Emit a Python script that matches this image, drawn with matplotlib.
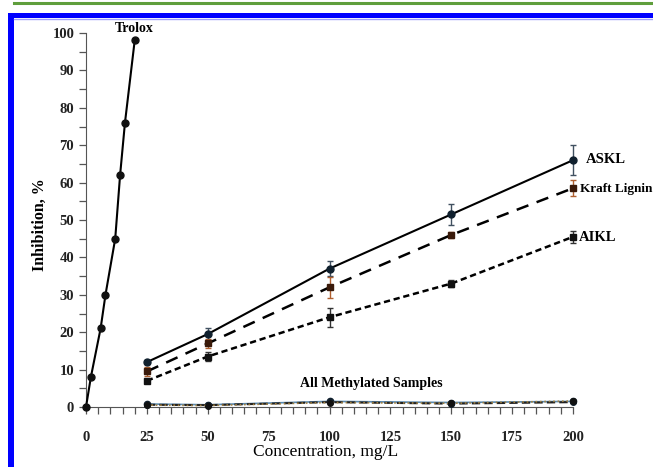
import matplotlib
matplotlib.use("Agg")
import matplotlib.pyplot as plt
from matplotlib.lines import Line2D
from matplotlib.patches import Rectangle
from matplotlib.ticker import MultipleLocator

# ---- data ----
trolox_x = [0, 2, 6, 8, 12, 14, 16, 20]
trolox_y = [0, 8, 21, 30, 45, 62, 76, 98]

conc = [25, 50, 100, 150, 200]
askl_y = [12, 19.5, 37, 51.5, 66]
askl_err = [0.6, 1.5, 2.0, 2.8, 4.0]
kraft_y = [9.5, 17, 32, 46, 58.5]
kraft_err = [1.2, 1.2, 2.8, 0.8, 2.2]
aikl_y = [7, 13.5, 24, 33, 45.5]
aikl_err = [0.6, 1.2, 2.5, 0.9, 1.6]
meth_askl_y = [0.8, 0.6, 1.5, 1.2, 1.5]
meth_kraft_y = [0.6, 0.5, 1.3, 0.9, 1.3]
meth_aikl_y = [0.5, 0.4, 1.2, 1.0, 1.6]

x_ticks = [0, 25, 50, 75, 100, 125, 150, 175, 200]
y_ticks = [0, 10, 20, 30, 40, 50, 60, 70, 80, 90, 100]

serif = ["Liberation Serif", "DejaVu Serif"]

fig = plt.figure(figsize=(6.53, 4.67), dpi=100)
W, H = 653, 467

# decorative frame
fig.add_artist(Line2D([14 / W, 1], [1 - 3 / H, 1 - 3 / H], transform=fig.transFigure,
                      color="#5f9e3c", lw=2.2))
fig.add_artist(Rectangle((8 / W, 0), 6 / W, 1 - 13 / H, transform=fig.transFigure,
                         color="#0000ff", lw=0))
fig.add_artist(Rectangle((8 / W, 1 - 18 / H), 1 - 8 / W, 5 / H, transform=fig.transFigure,
                         color="#0000ff", lw=0))
fig.add_artist(Line2D([14 / W, 1], [1 - 19 / H, 1 - 19 / H], transform=fig.transFigure,
                      color="#a0a0ff", lw=1))

ax = fig.add_axes([86 / W, 1 - 407 / H, (573 - 86) / W, (407 - 33) / H])
ax.set_xlim(0, 200)
ax.set_ylim(0, 100)
ax.spines["top"].set_visible(False)
ax.spines["right"].set_visible(False)
ax.spines["left"].set_color("#555555")
ax.spines["bottom"].set_color("#555555")

ax.set_xticks(x_ticks)
ax.set_yticks(y_ticks)
ax.xaxis.set_minor_locator(MultipleLocator(5))
ax.yaxis.set_minor_locator(MultipleLocator(5))
ax.tick_params(axis="both", which="both", direction="out", color="#555555", length=5, width=0.9)
ax.tick_params(axis="x", which="major", pad=12)
for lab in ax.get_xticklabels() + ax.get_yticklabels():
    lab.set_fontfamily(serif)
    lab.set_fontweight("bold")
    lab.set_fontsize(10.5)
    lab.set_color("#222222")

# Trolox
ax.plot(trolox_x, trolox_y, "-", color="black", lw=1.5, marker="o", ms=5,
        mfc="#111111", mec="#111111", clip_on=False, zorder=5)

# ASKL
ax.errorbar(conc, askl_y, yerr=askl_err, fmt="-", color="black", lw=1.5,
            marker="o", ms=5, mfc="#10202e", mec="#10202e", ecolor="#405060",
            elinewidth=1, capsize=2.5, clip_on=False, zorder=5)
# Kraft
ax.errorbar(conc, kraft_y, yerr=kraft_err, fmt="--", color="black", lw=1.8,
            dashes=(5, 3.5), marker="s", ms=4.5, mfc="#3a1a0a", mec="#3a1a0a",
            ecolor="#b06030", elinewidth=1, capsize=2.5, clip_on=False, zorder=5)
# AIKL
ax.errorbar(conc, aikl_y, yerr=aikl_err, fmt=":", color="black", lw=1.8,
            dashes=(2.5, 1.5), marker="s", ms=4.5, mfc="#111111", mec="#111111",
            ecolor="#333333", elinewidth=1, capsize=2.5, clip_on=False, zorder=5)

# Methylated samples
ax.plot(conc, meth_askl_y, "-", color="#5a8ab0", lw=1.2, marker="o", ms=4.5,
        mfc="#10202e", mec="#10202e", clip_on=False, zorder=4)
ax.plot(conc, meth_kraft_y, "--", color="#222222", lw=1.5, dashes=(4, 2),
        marker="o", ms=4, mfc="#10202e", mec="#10202e", clip_on=False, zorder=4)
ax.plot(conc, meth_aikl_y, ":", color="#a08040", lw=1.2, marker="o", ms=4,
        mfc="#111111", mec="#111111", clip_on=False, zorder=4)

# annotations (figure pixel positions)
def ftext(x, y, s, **kw):
    fig.text(x / W, 1 - y / H, s, family=serif, **kw)

ftext(134, 28, "Trolox", ha="center", va="center", fontsize=10, fontweight="bold")
ftext(586, 160, "ASKL", ha="left", va="center", fontsize=10.5, fontweight="bold")
ftext(580, 189, "Kraft Lignin", ha="left", va="center", fontsize=9.5, fontweight="bold")
ftext(579, 238, "AIKL", ha="left", va="center", fontsize=10.5, fontweight="bold")
ftext(371, 383, "All Methylated Samples", ha="center", va="center", fontsize=10,
      fontweight="bold")
ftext(326, 452, "Concentration, mg/L", ha="center", va="center", fontsize=12.5)
ftext(40, 225, "Inhibition, %", ha="center", va="center", fontsize=11.5,
      fontweight="bold", rotation=90)

fig.savefig("out.png", dpi=100)
